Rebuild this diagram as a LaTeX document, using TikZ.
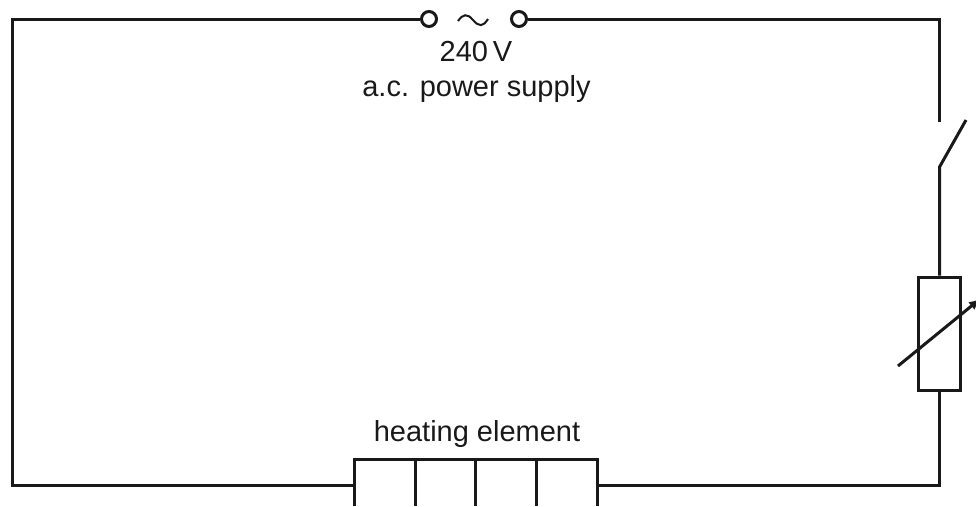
\documentclass[tikz,border=0pt]{standalone}
\usepackage{fontspec}
\usetikzlibrary{arrows.meta}
\setmainfont{Liberation Sans}
\begin{document}
\begin{tikzpicture}[x=1pt, y=-1pt, line width=3pt, color=black!90,
    terminal/.style={circle, draw, inner sep=0pt, minimum size=15pt},
    label text/.style={font=\fontsize{29}{34}\selectfont}]
  \useasboundingbox (0, 0) rectangle (976, 506);
  \node [terminal] (tl) at (429, 19) {};
  \node [terminal] (tr) at (519, 19) {};
  \node [label text] (volts) at (476, 52) {240\,V};
  \node [label text] (supply) at (476.5, 89.5) {a.c. power supply};
  \node [label text] (heating) at (477, 434) {heating element};
  \node [draw, minimum width=42pt, minimum height=113pt, inner sep=0pt] (res) at (939.5, 333.5) {};
  \coordinate (tlc) at (12, 19);
  \coordinate (trc) at (939.5, 19);
  \coordinate (blc) at (12, 485);
  \coordinate (brc) at (939.5, 485);
  \coordinate (swa) at (939.5, 122);
  \coordinate (swb) at (939.5, 167);
  \coordinate (swc) at (966, 120);
  \coordinate (ela) at (354, 485);
  \coordinate (elb) at (597, 485);
  \draw (tl) -- (tlc) -- (blc) -- (ela);
  \draw (tr) -- (trc) -- (swa);
  \draw (swc) -- (swb) -- (res);
  \draw (res) -- (brc) -- (elb);
  \draw (354, 506) -- (354, 459) -- (597, 459) -- (597, 506);
  \foreach \x in {415, 475, 536}
    \draw (\x, 459) -- (\x, 506);
  \draw [line width=2pt] (458, 21) .. controls (463, 14) and (467, 13) .. (473, 20) .. controls (479, 27) and (483, 27) .. (488, 19);
  \coordinate (aa) at (898, 366);
  \coordinate (ab) at (980, 299);
  \draw [-{Latex[length=11pt, width=10pt]}] (aa) -- (ab);
\end{tikzpicture}
\end{document}
